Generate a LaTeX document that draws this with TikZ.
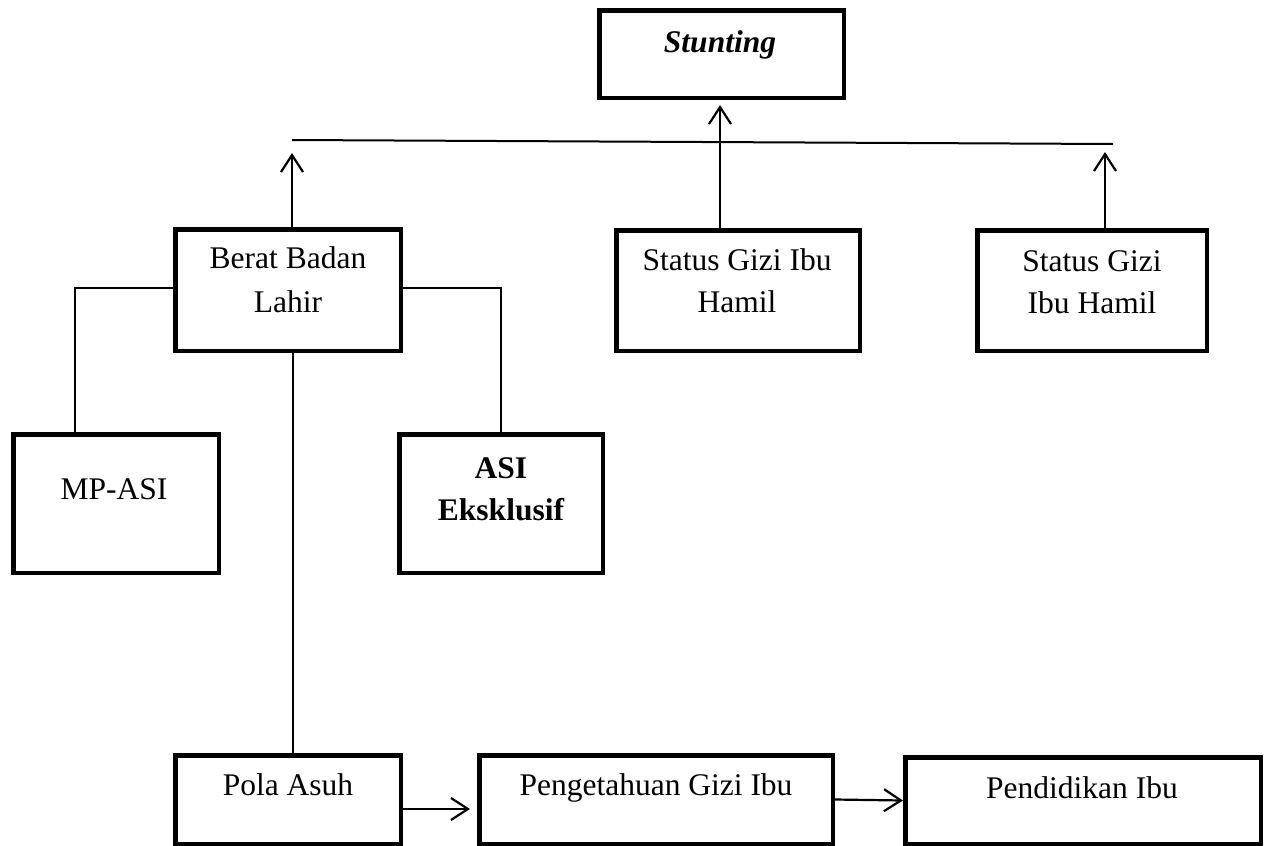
\documentclass[tikz,border=0pt]{standalone}
\usepackage{fontspec}
\setmainfont{Liberation Serif}
\usetikzlibrary{arrows.meta}
\begin{document}
\begin{tikzpicture}[x=1pt,y=-1pt,
  box/.style={draw, line width=4.5pt, inner sep=0pt, rectangle},
  lbl/.style={font=\fontsize{31.5}{42}\selectfont, align=center, anchor=base, inner sep=0pt},
  lblb/.style={lbl, font=\fontsize{31.5}{42}\selectfont\bfseries},
  conn/.style={line width=2pt},
  arr/.style={line width=2.2pt, -{Straight Barb[length=17pt,width=22pt,line width=2.2pt]}}]
\useasboundingbox (0,0) rectangle (1269,846);
% boxes
\node[box, minimum width=244.5pt, minimum height=87.5pt] (stunting) at (721.5,54) {};
\node[box, minimum width=225.5pt, minimum height=121.5pt] (berat) at (288,290) {};
\node[box, minimum width=243.5pt, minimum height=120.5pt] (statusm) at (738,290.5) {};
\node[box, minimum width=229.5pt, minimum height=120.5pt] (statusr) at (1092,290.5) {};
\node[box, minimum width=205.5pt, minimum height=138.5pt] (mpasi) at (116,503.5) {};
\node[box, minimum width=203.5pt, minimum height=138.5pt] (asi) at (501,503.5) {};
\node[box, minimum width=225.5pt, minimum height=88.5pt] (pola) at (288,799.5) {};
\node[box, minimum width=353.5pt, minimum height=88.5pt] (peng) at (656,799.5) {};
\node[box, minimum width=355.5pt, minimum height=86.5pt] (pend) at (1083,800.5) {};
% texts (anchor = baseline of the last line)
\node[lbl] (t-stunting) at (720,52) {\bfseries\itshape Stunting};
\node[lbl, font=\fontsize{31.5}{44}\selectfont] (t-berat) at (288,312) {Berat Badan\\Lahir};
\node[lbl] (t-statusm) at (737,312) {Status Gizi Ibu\\Hamil};
\node[lbl] (t-statusr) at (1092,313) {Status Gizi\\Ibu Hamil};
\node[lbl] (t-mpasi) at (114,499) {MP-ASI};
\node[lblb] (t-asi) at (501,520) {ASI\\Eksklusif};
\node[lbl] (t-pola) at (288,795) {Pola Asuh};
\node[lbl] (t-peng) at (656,795) {Pengetahuan Gizi Ibu};
\node[lbl] (t-pend) at (1082,798) {Pendidikan Ibu};
% connectors
\coordinate (hl) at (292,140);
\coordinate (hr) at (1113,144);
\draw[conn] (hl) -- (hr);
\coordinate (a1) at (292,153);
\draw[arr] (berat.north -| a1) -- (a1);
\coordinate (a2) at (720,105);
\draw[arr] (statusm.north -| a2) -- (a2);
\coordinate (a3) at (1105,152);
\draw[arr] (statusr.north -| a3) -- (a3);
\draw[conn] ([yshift=2pt]berat.west) -| ([xshift=-41pt]mpasi.north);
\draw[conn] ([yshift=2pt]berat.east) -| (asi.north);
\draw[conn] ([xshift=5pt]berat.south) -- ([xshift=5pt]pola.north);
\draw[arr] ([yshift=-9.5pt]pola.east) -- ([yshift=-9.5pt,xshift=-7pt]peng.west);
\draw[arr] (peng.east) -- (pend.west);
\end{tikzpicture}
\end{document}
